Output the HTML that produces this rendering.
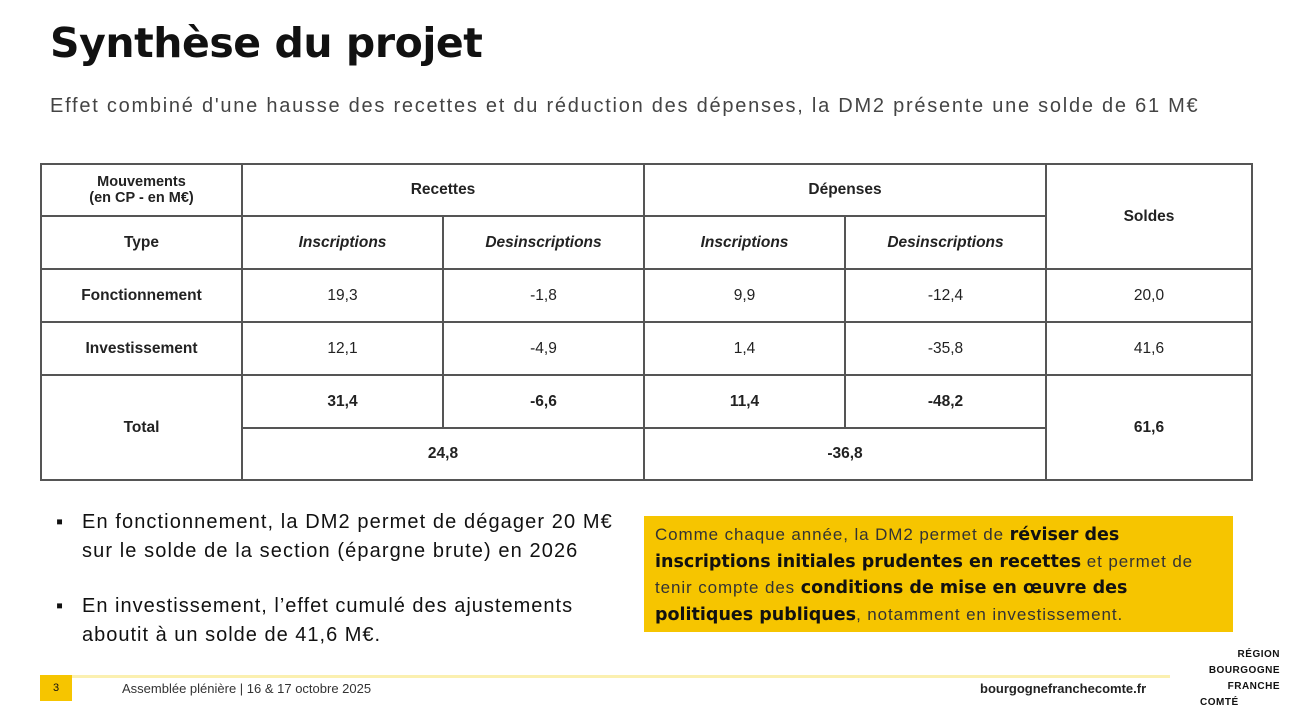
<!DOCTYPE html>
<html><head><meta charset="utf-8"><style>
body{margin:0;width:1300px;height:724px;background:#fff;font-family:"Liberation Sans",sans-serif;position:relative;overflow:hidden;color:#111}
.a{position:absolute}
table{position:absolute;left:40px;top:163px;border-collapse:collapse;font-size:15.5px;color:#222}
td{border:2px solid #555;text-align:center;padding:0}
.b{font-weight:bold}.i{font-style:italic;font-weight:bold}
.hb{font-family:"DejaVu Sans",sans-serif;font-weight:bold;font-size:17.5px;color:#111;letter-spacing:0}
</style></head><body>
<div class="a" style="left:50px;top:19px;font-size:41px;font-weight:bold;font-family:'DejaVu Sans',sans-serif;letter-spacing:-0.45px">Synthèse du projet</div>
<div class="a" style="left:50px;top:95px;font-size:20px;color:#444;letter-spacing:1.75px;white-space:nowrap">Effet combiné d'une hausse des recettes et du réduction des dépenses, la DM2 présente une solde de 61 M€</div>
<table>
<tr style="height:52px"><td class="b" style="width:199px;font-size:14.5px">Mouvements<br>(en CP - en M€)</td><td class="b" colspan="2">Recettes</td><td class="b" colspan="2">Dépenses</td><td class="b" rowspan="2" style="width:204px">Soldes</td></tr>
<tr style="height:53px"><td class="b" style="width:199px">Type</td><td class="i" style="width:199px">Inscriptions</td><td class="i" style="width:199px">Desinscriptions</td><td class="i" style="width:199px">Inscriptions</td><td class="i" style="width:199px">Desinscriptions</td></tr>
<tr style="height:53px"><td class="b">Fonctionnement</td><td>19,3</td><td>-1,8</td><td>9,9</td><td>-12,4</td><td>20,0</td></tr>
<tr style="height:53px"><td class="b">Investissement</td><td>12,1</td><td>-4,9</td><td>1,4</td><td>-35,8</td><td>41,6</td></tr>
<tr style="height:53px"><td class="b" rowspan="2">Total</td><td class="b">31,4</td><td class="b">-6,6</td><td class="b">11,4</td><td class="b">-48,2</td><td class="b" rowspan="2">61,6</td></tr>
<tr style="height:52px"><td class="b" colspan="2">24,8</td><td class="b" colspan="2">-36,8</td></tr>
</table>
<div class="a" style="left:56px;top:508px;font-size:20px;line-height:29px;letter-spacing:1.1px;white-space:nowrap"><span style="position:absolute;left:0;top:0">▪</span><div style="margin-left:26px">En fonctionnement, la DM2 permet de dégager 20 M€<br>sur le solde de la section (épargne brute) en 2026</div></div>
<div class="a" style="left:56px;top:592px;font-size:20px;line-height:29px;letter-spacing:1.0px;white-space:nowrap"><span style="position:absolute;left:0;top:0">▪</span><div style="margin-left:26px">En investissement, l’effet cumulé des ajustements<br>aboutit à un solde de 41,6 M€.</div></div>
<div class="a" style="left:644px;top:516px;width:578px;height:104px;background:#f6c500;padding:6px 0 6px 11px;font-size:17px;line-height:26.5px;color:#333;white-space:nowrap;letter-spacing:0.9px">Comme chaque année, la DM2 permet de <span class="hb">réviser des</span><br><span class="hb">inscriptions initiales prudentes en recettes</span> et permet de<br>tenir compte des <span class="hb">conditions de mise en œuvre des</span><br><span class="hb">politiques publiques</span>, notamment en investissement.</div>
<div class="a" style="left:72px;top:675px;width:1098px;height:3px;background:#fbf0b0"></div>
<div class="a" style="left:40px;top:675px;width:32px;height:26px;background:#f6c500;font-size:11px;text-align:center;line-height:26px">3</div>
<div class="a" style="left:122px;top:681px;font-size:13px;color:#333">Assemblée plénière | 16 &amp; 17 octobre 2025</div>
<div class="a" style="left:980px;top:681px;font-size:13px;color:#222;font-weight:bold">bourgognefranchecomte.fr</div>
<div class="a" style="left:1192px;top:647px;width:88px;font-size:10px;font-weight:bold;line-height:16px;letter-spacing:0.5px"><div style="text-align:right">RÉGION</div><div style="text-align:right">BOURGOGNE</div><div style="text-align:right">FRANCHE</div><div style="padding-left:8px">COMTÉ</div></div>
</body></html>
